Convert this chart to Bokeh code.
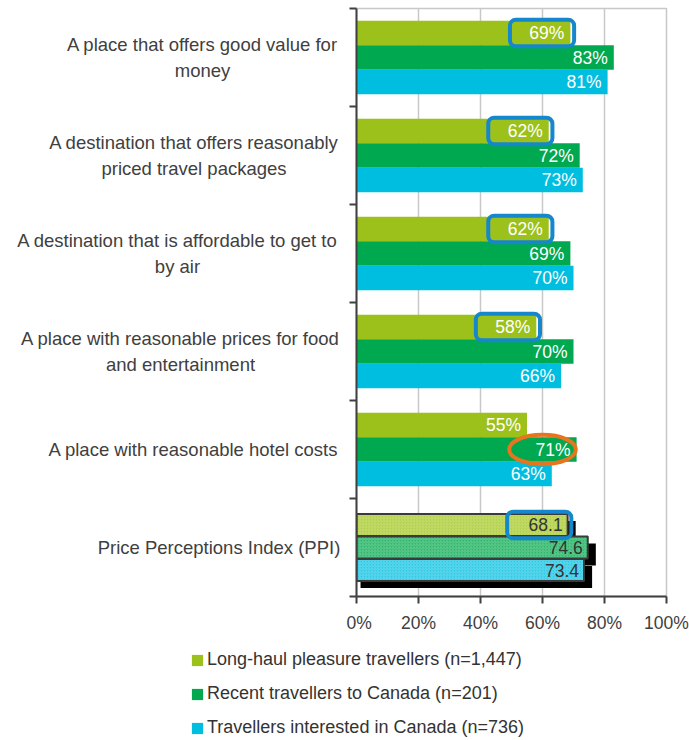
from bokeh.plotting import figure
from bokeh.models import (Range1d, FixedTicker, PrintfTickFormatter,
                          Legend, LegendItem)
from bokeh.layouts import column, row
from bokeh.embed import file_html
from bokeh.resources import INLINE
from bokeh.core.properties import value

# ---------------- data ----------------
categories = [
    "A place that offers good value for\nmoney",
    "A destination that offers reasonably\npriced travel packages",
    "A destination that is affordable to get to\nby air",
    "A place with reasonable prices for food\nand entertainment",
    "A place with reasonable hotel costs",
]
ppi_category = "Price Perceptions Index (PPI)"
series_names = [
    "Long-haul pleasure travellers (n=1,447)",
    "Recent travellers to Canada (n=201)",
    "Travellers interested in Canada (n=736)",
]
long_haul = [69, 62, 62, 58, 55]
recent = [83, 72, 69, 70, 71]
interested = [81, 73, 70, 66, 63]
ppi_values = [68.1, 74.6, 73.4]
x_ticks = [0, 20, 40, 60, 80, 100]
highlight_boxes = [0, 1, 2, 3]      # categories whose long-haul label is boxed
circled_category = 4                # recent-travellers label circled

# ---------------- style ----------------
colors = ["#9DC11B", "#00A84F", "#00BEE0"]
ppi_colors = ["#B2D044", "#2FB86C", "#2FCAE6"]
FONT = value("Liberation Sans")
TXT = "#404040"

all_labels = categories + [ppi_category]
n_cat = len(all_labels)
centers = [n_cat - i - 0.5 for i in range(n_cat)]
offsets = [0.25, 0.0, -0.25]
ppi_offsets = [0.23, 0.0, -0.23]

LABEL_W = 346
TOP, BOTTOM = 8, 44
MAIN_H = 640

# ---------------- main chart ----------------
p = figure(width=689 - LABEL_W, height=MAIN_H, output_backend="svg",
           toolbar_location=None,
           x_range=Range1d(0, 100), y_range=Range1d(0, n_cat),
           min_border_left=10, min_border_right=23, min_border_top=TOP,
           min_border_bottom=BOTTOM)
p.background_fill_color = "white"
p.border_fill_color = "white"
p.outline_line_color = "#c8c8c8"
p.outline_line_width = 1.5

p.xgrid.ticker = FixedTicker(ticks=x_ticks)
p.xgrid.grid_line_color = "#c8c8c8"
p.xgrid.grid_line_width = 1.5
p.ygrid.grid_line_color = None

xa = p.xaxis[0]
xa.ticker = FixedTicker(ticks=x_ticks)
xa.formatter = PrintfTickFormatter(format="%d%%")
ya = p.yaxis[0]
ya.ticker = FixedTicker(ticks=list(range(n_cat + 1)))
for ax in (xa, ya):
    ax.axis_line_color = TXT
    ax.axis_line_width = 2
    ax.major_tick_line_color = TXT
    ax.major_tick_line_width = 2
    ax.major_tick_out = 7
    ax.major_tick_in = 0
    ax.minor_tick_line_color = None
    ax.major_label_text_font = "Liberation Sans"
    ax.major_label_text_font_size = "17.5px"
    ax.major_label_text_color = TXT
ya.major_label_overrides = {i: "" for i in range(n_cat + 1)}
ya.major_label_standoff = 0
ya.major_label_text_font_size = "0px"
xa.major_label_standoff = 9

series_vals = [long_haul, recent, interested]
for s, vals in enumerate(series_vals):
    ys = [centers[i] + offsets[s] for i in range(len(vals))]
    p.hbar(y=ys, left=0, right=vals, height=0.25,
           fill_color=colors[s], line_color=None)
    p.text(x=vals, y=ys, text=[f"{v}%" for v in vals], text_align="right",
           text_baseline="middle", x_offset=-6, text_color="white",
           text_font=FONT, text_font_size="17.5px")

pc = centers[-1]
ppi_y = [pc + o for o in ppi_offsets]
p.hbar(y=[y - 0.072 for y in ppi_y], left=1.3, right=[v + 2.6 for v in ppi_values],
       height=0.225, fill_color="black", line_color=None)
p.hbar(y=ppi_y, left=0, right=ppi_values, height=0.225,
       fill_color=ppi_colors, line_color="#3a3a3a", line_width=2,
       hatch_pattern="/", hatch_color="white", hatch_alpha=0.25,
       hatch_scale=3, hatch_weight=1)
p.text(x=ppi_values, y=ppi_y, text=[f"{v:.1f}" for v in ppi_values],
       text_align="right", text_baseline="middle", x_offset=-5,
       text_color="#333333", text_font=FONT, text_font_size="17.5px")

bx_v = [long_haul[i] for i in highlight_boxes] + [ppi_values[0]]
bx_y = [centers[i] + offsets[0] for i in highlight_boxes] + [ppi_y[0]]
p.quad(left=[v - 19.5 for v in bx_v], right=[v + 1.2 for v in bx_v],
       bottom=[y - 0.135 for y in bx_y], top=[y + 0.135 for y in bx_y],
       fill_color=None, line_color="#1587CD", line_width=4, border_radius=6)

cv = recent[circled_category]
p.ellipse(x=[cv - 11], y=[centers[circled_category] + offsets[1]],
          width=21.5, height=0.3, fill_color=None,
          line_color="#E8741E", line_width=4)

# ---------------- category labels (left panel) ----------------
lp = figure(width=LABEL_W, height=MAIN_H, output_backend="svg",
            toolbar_location=None, x_axis_type=None, y_axis_type=None,
            x_range=Range1d(0, LABEL_W), y_range=Range1d(0, n_cat),
            min_border_left=0, min_border_right=0, min_border_top=TOP,
            min_border_bottom=BOTTOM)
lp.outline_line_color = None
lp.grid.visible = False
label_x = [202, 193.5, 177, 180, 193, 218.5]
lp.text(x=label_x, y=centers, text=all_labels, text_align="center",
        text_baseline="middle", text_font=FONT, text_font_size="18.5px",
        text_color=TXT, text_line_height=1.25)

# ---------------- legend (bottom panel) ----------------
LEG_H = 740 - MAIN_H
gp = figure(width=689, height=LEG_H, output_backend="svg",
            toolbar_location=None, x_axis_type=None, y_axis_type=None,
            x_range=Range1d(0, 689), y_range=Range1d(0, LEG_H),
            min_border=0)
gp.outline_line_color = None
gp.grid.visible = False
leg_rs = [gp.hbar(y=[-1000], left=[0], right=[1], height=1, fill_color=c,
                  line_color=None) for c in colors]
legend = Legend(items=[LegendItem(label=n, renderers=[r])
                       for n, r in zip(series_names, leg_rs)],
                location=(190, 2), orientation="vertical",
                glyph_width=14, glyph_height=14, label_standoff=3,
                spacing=13, padding=0, margin=0, label_height=20,
                border_line_color=None, background_fill_alpha=0,
                label_text_font="Liberation Sans", label_text_font_size="18px",
                label_text_color="#333333")
gp.add_layout(legend)

layout = column(row(lp, p), gp)
open("out.html", "w").write(file_html(layout, INLINE))
